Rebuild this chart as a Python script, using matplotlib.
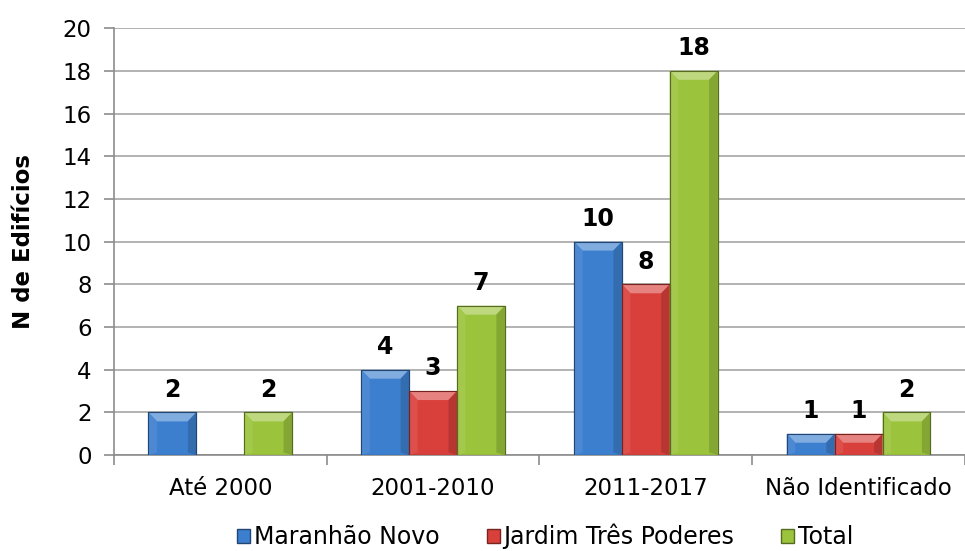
import numpy as np
import matplotlib.pyplot as plt
from matplotlib.patches import Polygon, Patch
import matplotlib.colors as mcolors

plt.rcParams['font.family'] = ['DejaVu Sans']

categorias = ['Até 2000', '2001-2010', '2011-2017', 'Não Identificado']
maranhao_novo = [2, 4, 10, 1]
jardim_tres_poderes = [0, 3, 8, 1]
total = [2, 7, 18, 2]

series = [
    ('Maranhão Novo', maranhao_novo, '#3d7fcf'),
    ('Jardim Três Poderes', jardim_tres_poderes, '#d9403b'),
    ('Total', total, '#9bc33c'),
]


def shade(color, f):
    r, g, b = mcolors.to_rgb(color)
    if f > 0:
        return (r + (1 - r) * f, g + (1 - g) * f, b + (1 - b) * f)
    return (r * (1 + f), g * (1 + f), b * (1 + f))


fig = plt.figure(figsize=(9.65, 5.51), dpi=100)
ax = fig.add_axes([0.118, 0.174, 0.882, 0.775])

x = np.arange(len(categorias))
w = 0.225
offsets = [-w, 0, w]

bx, by = 0.04, 0.42  # bevel size in data units

for (nome, vals, cor), off in zip(series, offsets):
    bars = ax.bar(x + off, vals, width=w, color=cor, edgecolor=shade(cor, -0.45),
                  linewidth=0.8, zorder=3, label=nome)
    for b, v in zip(bars, vals):
        if v <= 0:
            continue
        x0, x1 = b.get_x(), b.get_x() + b.get_width()
        y0, y1 = 0, v
        # lighter top bevel
        ax.add_patch(Polygon([(x0, y1), (x1, y1), (x1 - bx, y1 - by), (x0 + bx, y1 - by)],
                             closed=True, facecolor=shade(cor, 0.35), edgecolor='none', zorder=4))
        # darker side bevels
        ax.add_patch(Polygon([(x1, y1), (x1, y0), (x1 - bx, y0 + by * 0.3), (x1 - bx, y1 - by)],
                             closed=True, facecolor=shade(cor, -0.15), edgecolor='none', zorder=4))
        ax.add_patch(Polygon([(x0, y1), (x0, y0), (x0 + bx, y0 + by * 0.3), (x0 + bx, y1 - by)],
                             closed=True, facecolor=shade(cor, 0.08), edgecolor='none', zorder=4))
        ax.add_patch(Polygon([(x0, y1), (x1, y1), (x1, y0), (x0, y0)], closed=True,
                             facecolor='none', edgecolor=shade(cor, -0.45), linewidth=0.8, zorder=5))
        ax.text(b.get_x() + b.get_width() / 2, v + 0.5, str(v), ha='center', va='bottom',
                fontsize=17, fontweight='bold', zorder=6)

ax.set_xlim(-0.5, len(categorias) - 0.5)
ax.set_ylim(0, 20)
ax.set_yticks(np.arange(0, 21, 2))
ax.yaxis.grid(True, color='#a6a6a6', linewidth=1.2, zorder=0)
ax.set_axisbelow(True)

ax.set_xticks(np.arange(-0.5, len(categorias)), minor=False)
ax.set_xticklabels([])
ax.set_xticks(x, minor=True)
ax.set_xticklabels(categorias, minor=True)
ax.tick_params(axis='x', which='major', length=7, width=1.2, color='#8c8c8c')
ax.tick_params(axis='x', which='minor', length=0, pad=16, labelsize=16.5)
ax.tick_params(axis='y', length=7, width=1.2, color='#8c8c8c', labelsize=16.5, pad=9)

for s in ['top', 'right']:
    ax.spines[s].set_visible(False)
for s in ['left', 'bottom']:
    ax.spines[s].set_color('#8c8c8c')
    ax.spines[s].set_linewidth(1.2)

ax.set_ylabel('N de Edifícios', fontsize=16.5, fontweight='bold', labelpad=20)

handles = [Patch(facecolor=c, edgecolor=shade(c, -0.45), label=n) for n, _, c in series]
fig.legend(handles=handles, loc='lower center', bbox_to_anchor=(0.565, -0.035), ncol=3,
           frameon=False, fontsize=17, handlelength=0.55, handleheight=0.55,
           handletextpad=0.15, columnspacing=2.0)

fig.savefig('out.png', dpi=100)
